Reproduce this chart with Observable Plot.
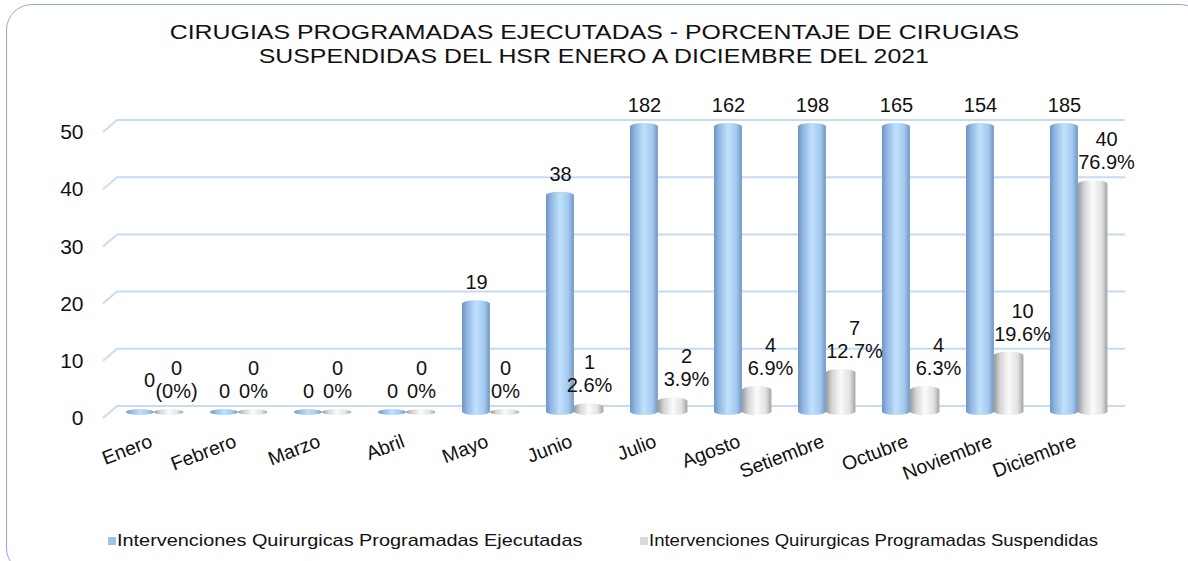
<!DOCTYPE html>
<html>
<head>
<meta charset="utf-8">
<script src="https://cdn.jsdelivr.net/npm/d3@7"></script>
<script src="https://cdn.jsdelivr.net/npm/@observablehq/plot@0.6"></script>
<style>
  html, body { margin: 0; padding: 0; width: 1188px; height: 561px; overflow: hidden; background: #fff;
    font-family: "Liberation Sans", Arial, sans-serif; color: #111; }
  #frame { position: absolute; left: 6px; top: 4px; width: 1200px; height: 570px; box-sizing: border-box;
    border: 1.5px solid #8faadc; border-radius: 26px; }
  #title { position: absolute; left: 0; top: 20px; width: 1188px; text-align: center; font-size: 21px; line-height: 24px; }
  #title div span { display: inline-block; transform: scaleX(1.185); white-space: nowrap; }
  #chart { position: absolute; left: 0; top: 70px; }
  .sw { position: absolute; width: 8px; height: 8px; top: 537px; }
  .lg { position: absolute; top: 531px; font-size: 17px; line-height: 20px; white-space: nowrap;
    transform-origin: left center; }
</style>
</head>
<body>
<div id="frame"></div>
<div id="title"></div>
<div id="chart"></div>
<div id="legend"></div>
<script>
const titleLines = ["CIRUGIAS PROGRAMADAS EJECUTADAS - PORCENTAJE DE CIRUGIAS",
                    "SUSPENDIDAS DEL HSR ENERO A DICIEMBRE DEL 2021"];
const months = ["Enero","Febrero","Marzo","Abril","Mayo","Junio","Julio","Agosto","Setiembre","Octubre","Noviembre","Diciembre"];
const ejecutadas = [0, 0, 0, 0, 19, 38, 182, 162, 198, 165, 154, 185];
const suspendidas = [0, 0, 0, 0, 0, 1, 2, 4, 7, 4, 10, 40];
const porcentajes = ["(0%)", "0%", "0%", "0%", "0%", "2.6%", "3.9%", "6.9%", "12.7%", "6.3%", "19.6%", "76.9%"];
const yTicks = [0, 10, 20, 30, 40, 50];
const seriesNames = ["Intervenciones Quirurgicas Programadas Ejecutadas", "Intervenciones Quirurgicas Programadas Suspendidas"];
const seriesColors = ["#9dc3e6", "#d9d9d9"];

// title
const titleEl = document.getElementById("title");
titleLines.forEach(t => { const d = document.createElement("div"); const s = document.createElement("span"); s.textContent = t; d.appendChild(s); titleEl.appendChild(d); });

// legend
const legendEl = document.getElementById("legend");
[[108, 117, 1.17], [640, 649, 1.09]].forEach(([sx, tx, sc], k) => {
  const sw = document.createElement("div"); sw.className = "sw"; sw.style.left = sx + "px"; sw.style.background = seriesColors[k]; legendEl.appendChild(sw);
  const lg = document.createElement("div"); lg.className = "lg"; lg.style.left = tx + "px"; lg.style.transform = `scaleX(${sc})`;
  lg.textContent = seriesNames[k]; legendEl.appendChild(lg);
});

const rows = months.map((m, i) => ({month: m, ejec: ejecutadas[i], susp: suspendidas[i], pct: porcentajes[i], i}));

const W = 1188, H = 450, ML = 111, MR = 68;
const step = (W - ML - MR) / months.length;

const background = (index, scales, values, dims) => {
  const g = d3.create("svg:g");
  const defs = g.append("defs");
  const grad = (id, stops) => {
    const lg = defs.append("linearGradient").attr("id", id).attr("x1", "0").attr("x2", "1").attr("y1", "0").attr("y2", "0");
    stops.forEach(([o, c]) => lg.append("stop").attr("offset", o).attr("stop-color", c));
  };
  grad("gBlue", [["0%", "#6f93c2"], ["18%", "#90b7e2"], ["50%", "#bfe1fc"], ["80%", "#a3c9ef"], ["100%", "#7196c4"]]);
  grad("gGrey", [["0%", "#999999"], ["20%", "#d4d4d4"], ["50%", "#fbfbfb"], ["80%", "#e2e2e2"], ["100%", "#a4a4a4"]]);
  const x0 = dims.marginLeft, x1 = dims.width - dims.marginRight;
  for (const t of yTicks) {
    const y = scales.y(t);
    g.append("path").attr("d", `M${x0 - 8},${y + 6}L${x0 + 6},${y - 6}H${x1 + 5}`)
      .attr("fill", "none").attr("stroke", "#c8dcf1").attr("stroke-width", 2);
  }
  return g.node();
};

const greyLabels = (subset, dx) => [
  Plot.text(subset, {x: "month", y: "susp", text: d => String(d.susp), dx, dy: -44, fontSize: 20}),
  Plot.text(subset, {x: "month", y: "susp", text: "pct", dx, dy: -21, fontSize: 20})
];

const chart = Plot.plot({
  width: W, height: H,
  marginLeft: ML, marginRight: MR, marginTop: 56, marginBottom: H - 342,
  style: {fontFamily: "Liberation Sans, Arial, sans-serif", color: "#111", background: "transparent", overflow: "visible"},
  x: {domain: months, padding: 0, axis: null},
  y: {domain: [0, 50], clamp: true, axis: null},
  marks: [
    background,
    Plot.axisY({ticks: yTicks, tickSize: 0, tickPadding: 28, dy: 6, fontSize: 21}),
    Plot.barY(rows, {x: "month", y: "ejec", fill: "url(#gBlue)", insetLeft: 14, insetRight: step - 42,
      insetTop: -3, insetBottom: -3, rx: 14, ry: 3.5}),
    Plot.barY(rows, {x: "month", y: "susp", fill: "url(#gGrey)", insetLeft: 42, insetRight: step - 71.5,
      insetTop: -3, insetBottom: -3, rx: 14.5, ry: 3.5}),
    Plot.text(rows.filter(d => d.i > 0), {x: "month", y: "ejec", text: d => String(d.ejec), dx: -14, dy: -21, fontSize: 20}),
    Plot.text(rows.filter(d => d.i === 0), {x: "month", y: "ejec", text: d => String(d.ejec), dx: -5, dy: -32, fontSize: 20}),
    ...greyLabels(rows.filter(d => d.i === 0), 22),
    ...greyLabels(rows.filter(d => d.i > 0 && d.susp < 2), 15),
    ...greyLabels(rows.filter(d => d.susp >= 2), 28),
    Plot.text(months, {x: d => d, y: 0, text: d => d, dx: -3, dy: 28, rotate: -21, textAnchor: "end", fontSize: 19.5})
  ]
});
document.getElementById("chart").appendChild(chart);
</script>
</body>
</html>
